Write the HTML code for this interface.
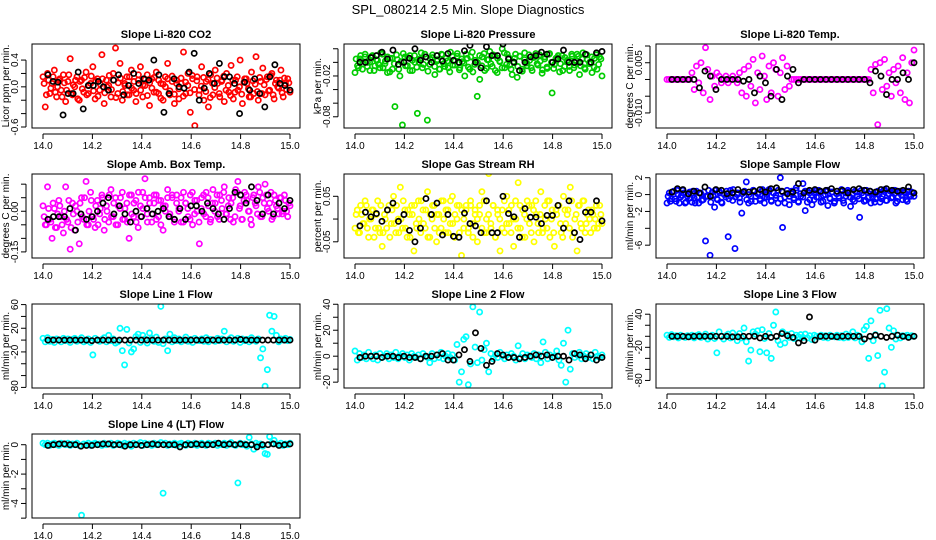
<!DOCTYPE html>
<html><head><meta charset="utf-8">
<style>
html,body{margin:0;padding:0;background:#fff;}
svg{display:block;font-family:"Liberation Sans",Arial,sans-serif;}
</style></head>
<body>
<svg id="chart" width="936" height="540" viewBox="0 0 936 540" xmlns="http://www.w3.org/2000/svg">
<rect width="936" height="540" fill="#fff"/>
<text x="468" y="14" text-anchor="middle" font-size="13">SPL_080214  2.5 Min. Slope Diagnostics</text>
</svg>
<script>
const xTicks = [14.0, 14.2, 14.4, 14.6, 14.8, 15.0];
const xMin = 14.0, xMax = 15.0;

const titles = ["Slope Li-820 CO2","Slope Li-820 Pressure","Slope Li-820 Temp.","Slope Amb. Box Temp.","Slope Gas Stream RH","Slope Sample Flow","Slope Line 1 Flow","Slope Line 2 Flow","Slope Line 3 Flow","Slope Line 4 (LT) Flow"];
const yLabels = ["Licor ppm per min.","kPa per min.","degrees C per min.","degrees C per min.","percent per min.","ml/min per min.","ml/min per min.","ml/min per min.","ml/min per min.","ml/min per min."];
const seriesColors = ["#ff0000","#00cc00","#ff00ff","#ff00ff","#ffff00","#0000ff","#00ffff","#00ffff","#00ffff","#00ffff"];
const yLims = [[-0.615,0.64],[-0.0965,0.027],[-0.0145,0.0106],[-0.1725,0.1375],[-0.0856,0.099],[-7.52,2.44],[-81,61],[-24.5,40.2],[-93.7,58.5],[-4.99,0.73]];
const yTickVals = [[-0.6,-0.4,-0.2,0,0.2,0.4],[-0.08,-0.06,-0.04,-0.02,0,0.02],[-0.01,-0.005,0,0.005,0.01],[-0.15,-0.1,-0.05,0,0.05,0.1],[-0.05,0,0.05],[-6,-4,-2,0,2],[-80,-60,-40,-20,0,20,40,60],[-20,-10,0,10,20,30,40],[-80,-60,-40,-20,0,20,40],[-5,-4,-3,-2,-1,0]];
const yTickLabels = [["-0.6","","","0.0","","0.4"],["-0.08","","","-0.02","",""],["-0.010","","","0.005",""],["-0.15","","","0.00","",""],["-0.05","","0.05"],["-6","","-2","0","2"],["-80","","","-20","","20","","60"],["-20","","0","","20","","40"],["-80","","","-20","","","40"],["","-4","","-2","","0"]];

const co2 = [.15,-.3,.2,-.1,.05,.25,-.15,.1,-.05,.18,-.22,.08,.42,-.12,0,.15,-.2,.1,-.08,.22,-.1,.05,.3,-.18,.12,-.05,.48,-.25,.1,.02,-.15,.2,.58,-.1,.35,-.2,.05,.15,-.12,.25,-.05,-.22,.1,.3,-.15,.02,.18,-.28,.12,-.08,.22,-.1,.05,-.2,.15,.35,-.12,.08,-.25,.1,-.18,.05,.52,-.1,.2,-.38,.12,-.58,.15,-.05,.3,-.2,.08,-.3,.18,-.12,.25,.05,-.15,.1,-.22,.2,-.08,.32,-.18,.1,-.05,.4,-.25,.12,.05,-.15,.22,-.1,.45,-.2,.08,.28,-.12,.15,-.05,.2,-.18,.1,-.02,.25,-.15,.05,.12,-.08];
const co2Band = [.05,-.12,.1,-.02,.15,-.08,0,.12,-.15,.06,-.05,.18,-.1,.03,.1,-.18,.08,-.03,.14,-.12,.02,.16,-.06,.09,-.14,.04,.12,-.09,0,.17,-.04,.1,-.16,.06,.13,-.07,.02,-.12,.15,-.02,.08,-.1,.18,-.05,.03,.11,-.13,.06,-.02,.14,-.08,.1,-.17,.04,0,.12,-.06,.16,-.11,.05,-.03,.13,-.14,.07,.02,-.09,.17,-.04,.09,-.12,.01,.14,-.07,.11,-.16,.05,-.01,.13,-.1,.08,.16,-.05,.02,-.13,.1,-.08,.15,0,-.11,.07,.12,-.03,-.15,.09,.04,-.07,.14,-.1,.03,.11,-.06,.17,-.12,.05,0,.1,-.09,.13,-.04,.06];
const co2Black = [.18,.08,.07,-.42,-.1,-.1,.22,-.33,.02,.02,.08,0,-.05,.1,.18,-.12,.02,.2,.05,.12,.1,.4,.18,-.38,-.1,.12,0,-.02,.22,.5,-.2,-.02,.2,.05,.35,.15,.15,.05,-.4,.07,-.05,.12,-.1,-.3,.15,.33,.05,.02,-.05];
const pressure = [-.015,-.005,.005,-.01,.008,0,-.012,.01,-.005,.003,-.008,.012,-.002,-.015,.006,-.01,-.065,.004,-.02,-.092,.008,-.005,.01,-.012,0,-.075,.005,-.008,.012,-.085,-.003,.007,-.018,.004,-.01,.011,-.006,.002,-.014,.009,-.004,.013,-.008,.001,-.02,.006,-.01,.015,-.003,-.05,-.025,.008,-.012,.004,.016,-.006,.01,-.015,.002,.02,-.008,.012,-.004,-.018,.006,-.022,.009,-.01,.014,-.005,.003,-.012,.008,-.002,.011,-.016,.005,-.009,.013,-.045,-.003,.007,-.014,.01,-.006,.002,-.012,.009,-.004,.012,-.018,.005,-.008,.011,-.002,-.015,.006,-.01,.008,-.02];
const pressureBand = [.005,-.008,.01,-.002,.012,-.006,0,.009,-.012,.004,-.003,.014,-.008,.002,.008,-.014,.006,-.002,.011,-.01,.001,.013,-.005,.007,-.012,.003,.01,-.007,0,.014,-.003,.008,-.013,.005,.011,-.006,.002,-.01,.012,-.002,.006,-.008,.015,-.004,.002,.009,-.011,.005,-.001,.012,-.007,.008,-.014,.003,0,.01,-.005,.013,-.009,.004,-.002,.011,-.012,.006,.001,-.008,.014,-.003,.007,-.01,.001,.012,-.006,.009,-.013,.004,-.001,.011,-.008,.007,.013,-.004,.002,-.011,.008,-.007,.012,0,-.009,.006,.01,-.002,-.012,.007,.003,-.006,.012,-.008,.002,.009,-.005,.014,-.01,.004,0,.008,-.007,.011,-.003,.005];
const pressureBlack = [0,0,.007,.01,.015,.005,.018,-.003,0,.006,.02,.003,.008,0,.01,.002,.013,.003,0,.017,.025,0,-.008,.023,.01,.01,.027,.005,0,-.012,0,.008,.01,.015,.012,0,.005,.018,0,0,0,.012,0,.014,.016];
const temp = [0,0,0,0,0,0,0,0,0,0,0,.002,-.003,.004,-.001,.005,-.004,.0095,.003,-.006,.001,-.002,.002,.001,-.001,0,.001,-.001,0,.001,0,-.001,.002,-.004,.003,-.005,.004,-.002,.006,-.007,.002,-.003,.007,.001,-.006,.004,-.004,.005,.003,-.005,.002,.0065,-.003,.004,-.002,0,0,0,0,0,0,0,0,0,0,0,0,0,0,0,0,0,0,0,0,0,0,0,0,0,0,0,0,0,0,0,0,0,0,0,.003,-.004,.0045,-.0135,.005,-.003,.006,-.002,.002,-.005,.003,-.001,.004,-.004,.0065,-.006,.002,-.007,.005,.0088];
const tempBlack = [0,0,0,0,0,-.0025,.0025,.001,-.003,0,0,0,0,-.0005,0,-.004,.001,-.001,-.005,.003,-.006,.001,.003,-.001,0,0,0,0,0,0,0,0,0,0,0,0,-.001,.0025,.001,-.0045,0,0,.002,0,.005];
const ambBox = [.02,-.05,.09,-.03,-.1,.01,-.06,.04,-.02,-.08,.09,-.04,-.14,.03,-.07,0,-.12,.05,-.03,.11,-.05,.07,-.02,-.06,.04,-.01,.06,-.07,.02,-.04,.08,-.02,.05,-.05,.01,.07,-.03,.03,-.1,.06,-.02,.04,-.06,.02,.07,.12,-.01,.05,-.04,.03,.06,-.02,.04,-.07,.02,.08,-.01,.05,-.03,.06,.01,-.04,.07,.03,-.02,.06,-.05,.04,0,-.12,.05,-.01,.07,.02,-.03,.08,.03,-.02,.06,.01,.09,-.01,.05,.03,-.04,.08,.11,.02,-.03,.07,.04,0,-.05,.06,.02,.09,-.02,.05,.1,.01,.03,-.03,.06,.02,-.01,.05,0,.04,-.02,.02];
const ambBoxBand = [-.02,-.05,.01,-.04,.03,-.06,-.01,.02,-.05,0,-.03,.04,-.06,-.01,.02,-.04,.03,-.02,.05,-.05,0,.04,-.03,.02,-.05,.01,.05,-.03,0,.06,-.02,.03,-.05,.02,.05,-.03,.01,-.04,.06,-.01,.03,-.04,.07,-.02,.01,.05,-.04,.03,-.01,.06,-.03,.04,-.05,.02,0,.05,-.02,.06,-.04,.03,0,.05,-.04,.03,.01,-.03,.07,-.01,.04,-.04,.01,.06,-.02,.05,-.04,.03,0,.06,-.03,.04,.07,-.01,.02,-.03,.05,-.02,.07,.01,-.03,.04,.06,0,-.03,.05,.03,-.01,.07,-.02,.03,.06,0,.07,-.02,.04,.01,.05,-.01,.06,0,.03];
const ambBoxBlack = [-.03,-.02,-.02,-.02,.01,-.07,-.01,-.03,-.02,0,.03,.05,-.01,.02,-.01,-.04,0,-.02,.01,-.01,0,.01,-.02,-.03,.01,-.03,.02,.02,0,.03,.01,-.01,-.03,.01,.07,.06,.03,.09,.04,-.01,.06,-.01,.03,.01,.04];
const rh = [-.02,.02,-.03,.01,-.01,.03,-.04,0,.02,-.02,.04,-.03,-.06,.01,-.02,.03,-.01,.05,-.03,0,.07,-.02,.02,-.04,.01,.03,-.07,-.01,.04,-.03,.02,-.02,.06,-.04,0,.03,-.05,.01,-.02,.04,-.03,.02,-.01,.05,-.04,0,.03,-.08,-.02,.02,-.03,.04,-.01,.02,-.05,.01,.06,-.03,0,.1,-.02,.03,-.04,.01,-.07,.02,-.03,.05,-.01,.03,-.06,0,.08,-.02,.02,-.04,.04,-.01,.03,-.05,.01,-.03,.06,-.02,0,.04,-.04,.02,-.06,.01,.03,-.03,.05,-.01,.02,.07,-.04,0,-.07,.03,-.02,.04,-.01,.02,-.03,.01,0,-.02,.03,-.01];
const rhBand = [.01,-.03,.03,-.01,.04,-.02,0,.02,-.04,.01,-.02,.03,-.03,0,.02,-.04,.02,-.01,.03,-.03,0,.04,-.02,.02,-.04,.01,.03,-.02,0,.04,-.01,.02,-.04,.01,.03,-.02,.01,-.03,.04,0,.02,-.03,.04,-.01,.01,.03,-.03,.02,0,.03,-.02,.03,-.04,.01,0,.03,-.02,.04,-.03,.01,-.01,.03,-.04,.02,0,-.02,.04,-.01,.02,-.03,0,.04,-.02,.03,-.04,.01,0,.03,-.03,.02,.04,-.01,.01,-.03,.03,-.02,.04,0,-.03,.02,.03,-.01,-.04,.02,.01,-.02,.04,-.03,.01,.03,-.01,.04,-.03,.01,0,.02,-.02,.03,-.01,.01];
const rhBlack = [-.015,.015,.005,.012,-.005,.02,.035,-.005,.01,-.025,-.05,-.02,.045,.01,.035,-.035,.01,-.038,-.04,.013,-.01,-.015,-.03,.04,-.03,-.03,.05,.012,.005,-.04,.023,.004,.004,-.01,.008,.008,.03,-.02,.04,-.03,-.045,.015,.015,.04,-.004];
const sampleFlow = [-1,.2,-.5,.4,-.8,0,-.3,.5,-1,-.2,.3,-.9,-.4,.4,-1,.1,-.6,-5.5,-.2,-7.2,.3,-1.5,-.5,.4,-.9,.1,-.3,-5,.5,-.7,-6.4,0,-.4,-2.2,.3,1.5,-1,-.2,.5,-.8,.1,-.5,.4,-1,-.3,.6,-.7,.2,-.4,-1,2,-3.9,-.3,.5,-1.2,.1,-.6,.8,-.9,-.2,1.3,-1.9,.4,-.6,-1.2,.2,-.3,.5,-.9,-.1,.4,-1.3,-.5,.3,-.8,.1,-.4,.6,-1,-.2,.3,-1.4,-.6,.4,-.2,-2.7,.2,-.8,.5,-.3,-1,.1,-.5,.4,-.9,-.2,.6,-.7,.1,-.4,.5,-1,-.3,.4,-.6,.2,-.8,0,.3,-.2];
const sampleFlowBand = [-.2,-.8,.3,-.5,.5,-1,-.1,.2,-.9,0,-.4,.4,-1,-.3,.2,-.7,.3,-.2,.5,-.9,-.1,.5,-.6,.2,-1,0,.4,-.5,-.2,.6,-.3,.2,-.9,.1,.4,-.6,0,-.8,.5,-.2,.2,-.7,.6,-.3,0,.4,-.8,.2,-.1,.5,-.5,.3,-1,.1,-.2,.4,-.4,.5,-.8,.1,-.3,.4,-.9,.2,-.1,-.6,.5,-.3,.3,-.8,0,.5,-.4,.3,-1,.1,-.2,.4,-.7,.2,.5,-.3,.1,-.8,.3,-.5,.5,-.1,-.7,.2,.4,-.3,-.9,.3,.1,-.5,.5,-.7,.1,.4,-.3,.5,-.8,.2,-.1,.3,-.6,.4,-.2,.2];
const sampleFlowBlack = [.3,.7,.6,.1,.4,.2,.9,-.2,.6,.5,.1,.2,.6,.3,.3,.4,.6,.3,.7,.8,.4,.1,.3,1.3,.2,.5,.6,.4,.5,.7,.4,.5,.2,.6,.7,.5,.4,.3,.6,.7,.5,.4,.5,.9,.2];
const line1 = [3,-3,4,-2,1,-4,2,0,-3,3,-1,2,-4,1,3,-2,0,4,-3,-1,2,-4,-25,3,0,-2,1,4,-3,8,-1,2,-5,-3,20,-18,-42,18,-5,-20,-15,6,10,-4,8,2,-5,12,3,-2,5,-4,57,-6,2,-18,10,-3,4,-1,2,-3,0,5,-2,1,-4,3,0,-1,2,-2,4,-3,1,0,-2,3,-1,2,15,-3,1,4,-2,0,3,-4,2,-1,1,-3,4,0,-2,2,-30,-15,-78,-50,42,15,40,8,-3,2,0,3,-1,1];
const line1Black = [0,0,0,0,0,0,0,0,-1,0,0,0,0,0,0,0,0,0,0,0,0,0,0,0,0,0,0,0,0,0,0,0,0,0,0,1,0,0,0,0,0,0,0,0,0];
const line2 = [4,-3,2,-1,1,-2,3,0,-2,1,-3,2,-1,0,2,-2,1,-1,3,-2,0,2,-1,1,-3,2,0,-1,1,-2,2,0,-1,-5,2,-2,1,-1,3,-2,0,2,-1,1,-3,9,-20,-12,13,15,-22,-6,38,7,-5,34,-3,5,10,-12,2,-2,1,-1,3,0,-2,1,-1,2,0,-3,8,-1,2,-2,1,0,-1,2,-2,1,-5,11,3,-2,1,-1,0,4,-3,-7,10,-20,20,-10,2,-1,1,3,-2,0,2,-1,1,-2,3,0,-1,1];
const line2Black = [-1,0,0,0,-1,0,0,-1,0,-1,-1,-2,0,0,1,2,-3,-3,1,5,-4,18,6,-7,-4,2,1,-1,-1,-2,-1,0,1,0,1,-1,0,0,-3,2,1,-2,1,-3,-1];
const line3 = [2,-2,3,-1,1,-3,2,0,-2,1,-1,2,-3,1,3,-2,0,4,-5,-1,2,-4,-30,8,0,-5,1,4,-3,6,-1,-8,5,-3,15,-10,-45,-25,8,4,10,-28,12,-4,-30,5,-40,20,44,-8,-15,8,-12,3,-2,5,-4,2,-1,3,-2,4,-3,1,-6,2,0,-1,2,-2,1,-3,2,0,-1,2,-2,1,-3,4,-2,1,8,-3,2,0,-10,12,18,-40,28,-8,3,-35,47,-90,-65,50,15,-20,10,-5,2,-3,1,0,2,-1,1,0];
const line3Black = [0,0,0,-1,0,0,0,0,0,0,0,-1,-1,0,0,0,-3,0,-2,0,5,1,-2,-12,-8,35,-7,0,0,0,-1,0,0,0,0,-5,0,2,0,-2,0,2,0,-2,0];
const line4 = [.1,0,.1,-.05,.05,.1,0,-.05,.1,.05,0,.1,-.05,.05,0,.1,-.05,-4.8,.05,0,.1,-.05,.05,.1,0,.05,-.05,.1,0,.05,.1,-.05,0,.1,.05,-.05,.1,0,.05,-.1,.1,0,.05,.15,-.05,.1,0,.05,-.05,.1,0,.05,.15,-3.3,.1,-.05,.05,0,.1,-.05,.05,.1,0,-.05,.1,.05,0,.1,-.05,.05,.1,0,-.05,.1,.05,0,.1,-.05,.05,0,.1,-.05,.05,.15,0,-.05,-2.6,.1,0,.05,-.1,.5,.05,-.3,.1,0,.05,-.1,-.6,-.65,.55,.1,.3,.05,0,.1,-.05,.05,0,.1];
const line4Black = [-.05,0,.05,.05,0,0,-.1,-.05,-.05,0,.05,.05,0,0,-.1,0,0,-.05,0,.05,0,0,0,0,-.15,0,0,.05,0,0,0,.1,0,.05,0,.05,0,0,-.15,0,0,.05,-.05,0,.05];

const mainSeries = [co2,pressure,temp,ambBox,rh,sampleFlow,line1,line2,line3,line4];
const bandSeries = [co2Band,pressureBand,null,ambBoxBand,rhBand,sampleFlowBand,null,null,null,null];
const blackSeries = [co2Black,pressureBlack,tempBlack,ambBoxBlack,rhBlack,sampleFlowBlack,line1Black,line2Black,line3Black,line4Black];
const panelNames = ["co2","pressure","temp","amb-box-temp","gas-stream-rh","sample-flow","line1-flow","line2-flow","line3-flow","line4-flow"];

const NS = "http://www.w3.org/2000/svg";
const svg = document.getElementById("chart");
const boxLefts = [32, 344, 656], boxTops = [44, 174, 304, 434], boxW = 268, boxH = 84;

function mk(tag, attrs, parent) {
  const e = document.createElementNS(NS, tag);
  for (const k in attrs) e.setAttribute(k, attrs[k]);
  parent.appendChild(e);
  return e;
}

mainSeries.forEach((vals, p) => {
  const L = boxLefts[p % 3], T = boxTops[Math.floor(p / 3)];
  const [y0, y1] = yLims[p];
  const xs = v => L + 11 + (v - xMin) / (xMax - xMin) * (boxW - 21);
  const ys = v => T + boxH - (v - y0) / (y1 - y0) * boxH;
  const g = mk("g", {}, svg);
  
  

  const t = mk("text", {x: L + boxW / 2, y: T - 6, "text-anchor": "middle", "font-size": "11", "font-weight": "bold"}, g);
  
  
  t.textContent = titles[p];

  const cid = "clip" + p;
  const cp = mk("clipPath", {id: cid}, g);
  mk("rect", {x: L, y: T, width: boxW, height: boxH}, cp);
  const pts = mk("g", {"clip-path": "url(#" + cid + ")", fill: "none", "stroke-width": "1.7"}, g);
  
  

  const band = bandSeries[p];
  if (band) {
    band.forEach((v, i) => {
      const x = xMin + (xMax - xMin) * (i + 0.5) / band.length;
      const c = mk("circle", {cx: xs(x), cy: ys(v), r: 2.6, stroke: seriesColors[p]}, pts);
      
      
    });
  }
  vals.forEach((v, i) => {
    const x = xMin + (xMax - xMin) * i / (vals.length - 1);
    const c = mk("circle", {cx: xs(x), cy: ys(v), r: 2.6, stroke: seriesColors[p]}, pts);
    
    
  });
  const bl = blackSeries[p];
  bl.forEach((v, i) => {
    const x = 14.02 + (xMax - 14.02) * i / (bl.length - 1);
    const c = mk("circle", {cx: xs(x), cy: ys(v), r: 2.6, stroke: "#000"}, pts);
    
    
  });

  const box = mk("rect", {x: L, y: T, width: boxW, height: boxH, fill: "none", stroke: "#000", "stroke-width": "1"}, g);
  
  

  const xa = mk("g", {stroke: "#000", "stroke-width": "1"}, g);
  
  
  mk("line", {x1: xs(xTicks[0]), x2: xs(xTicks[xTicks.length - 1]), y1: T + boxH + 6, y2: T + boxH + 6}, xa);
  xTicks.forEach(v => {
    mk("line", {x1: xs(v), x2: xs(v), y1: T + boxH + 6, y2: T + boxH + 11}, xa);
    const lt = mk("text", {x: xs(v), y: T + boxH + 21, "text-anchor": "middle", "font-size": "10", stroke: "none"}, xa);
    
    
    lt.textContent = v.toFixed(1);
  });

  const ya = mk("g", {stroke: "#000", "stroke-width": "1"}, g);
  
  
  const tv = yTickVals[p];
  mk("line", {x1: L - 6, x2: L - 6, y1: ys(tv[0]), y2: ys(tv[tv.length - 1])}, ya);
  tv.forEach((v, i) => {
    mk("line", {x1: L - 6, x2: L - 11, y1: ys(v), y2: ys(v)}, ya);
    const s = yTickLabels[p][i];
    if (s) {
      const lx = L - 14, ly = ys(v);
      const lt = mk("text", {x: lx, y: ly, "text-anchor": "middle", "font-size": "10", stroke: "none", transform: "rotate(-90 " + lx + " " + ly + ")"}, ya);
      
      
      lt.textContent = s;
    }
  });
  const yx = L - 23, yy = T + boxH / 2;
  const yl = mk("text", {x: yx, y: yy, "text-anchor": "middle", "font-size": "10", transform: "rotate(-90 " + yx + " " + yy + ")"}, g);
  
  
  yl.textContent = yLabels[p];
});
</script>
</body></html>
